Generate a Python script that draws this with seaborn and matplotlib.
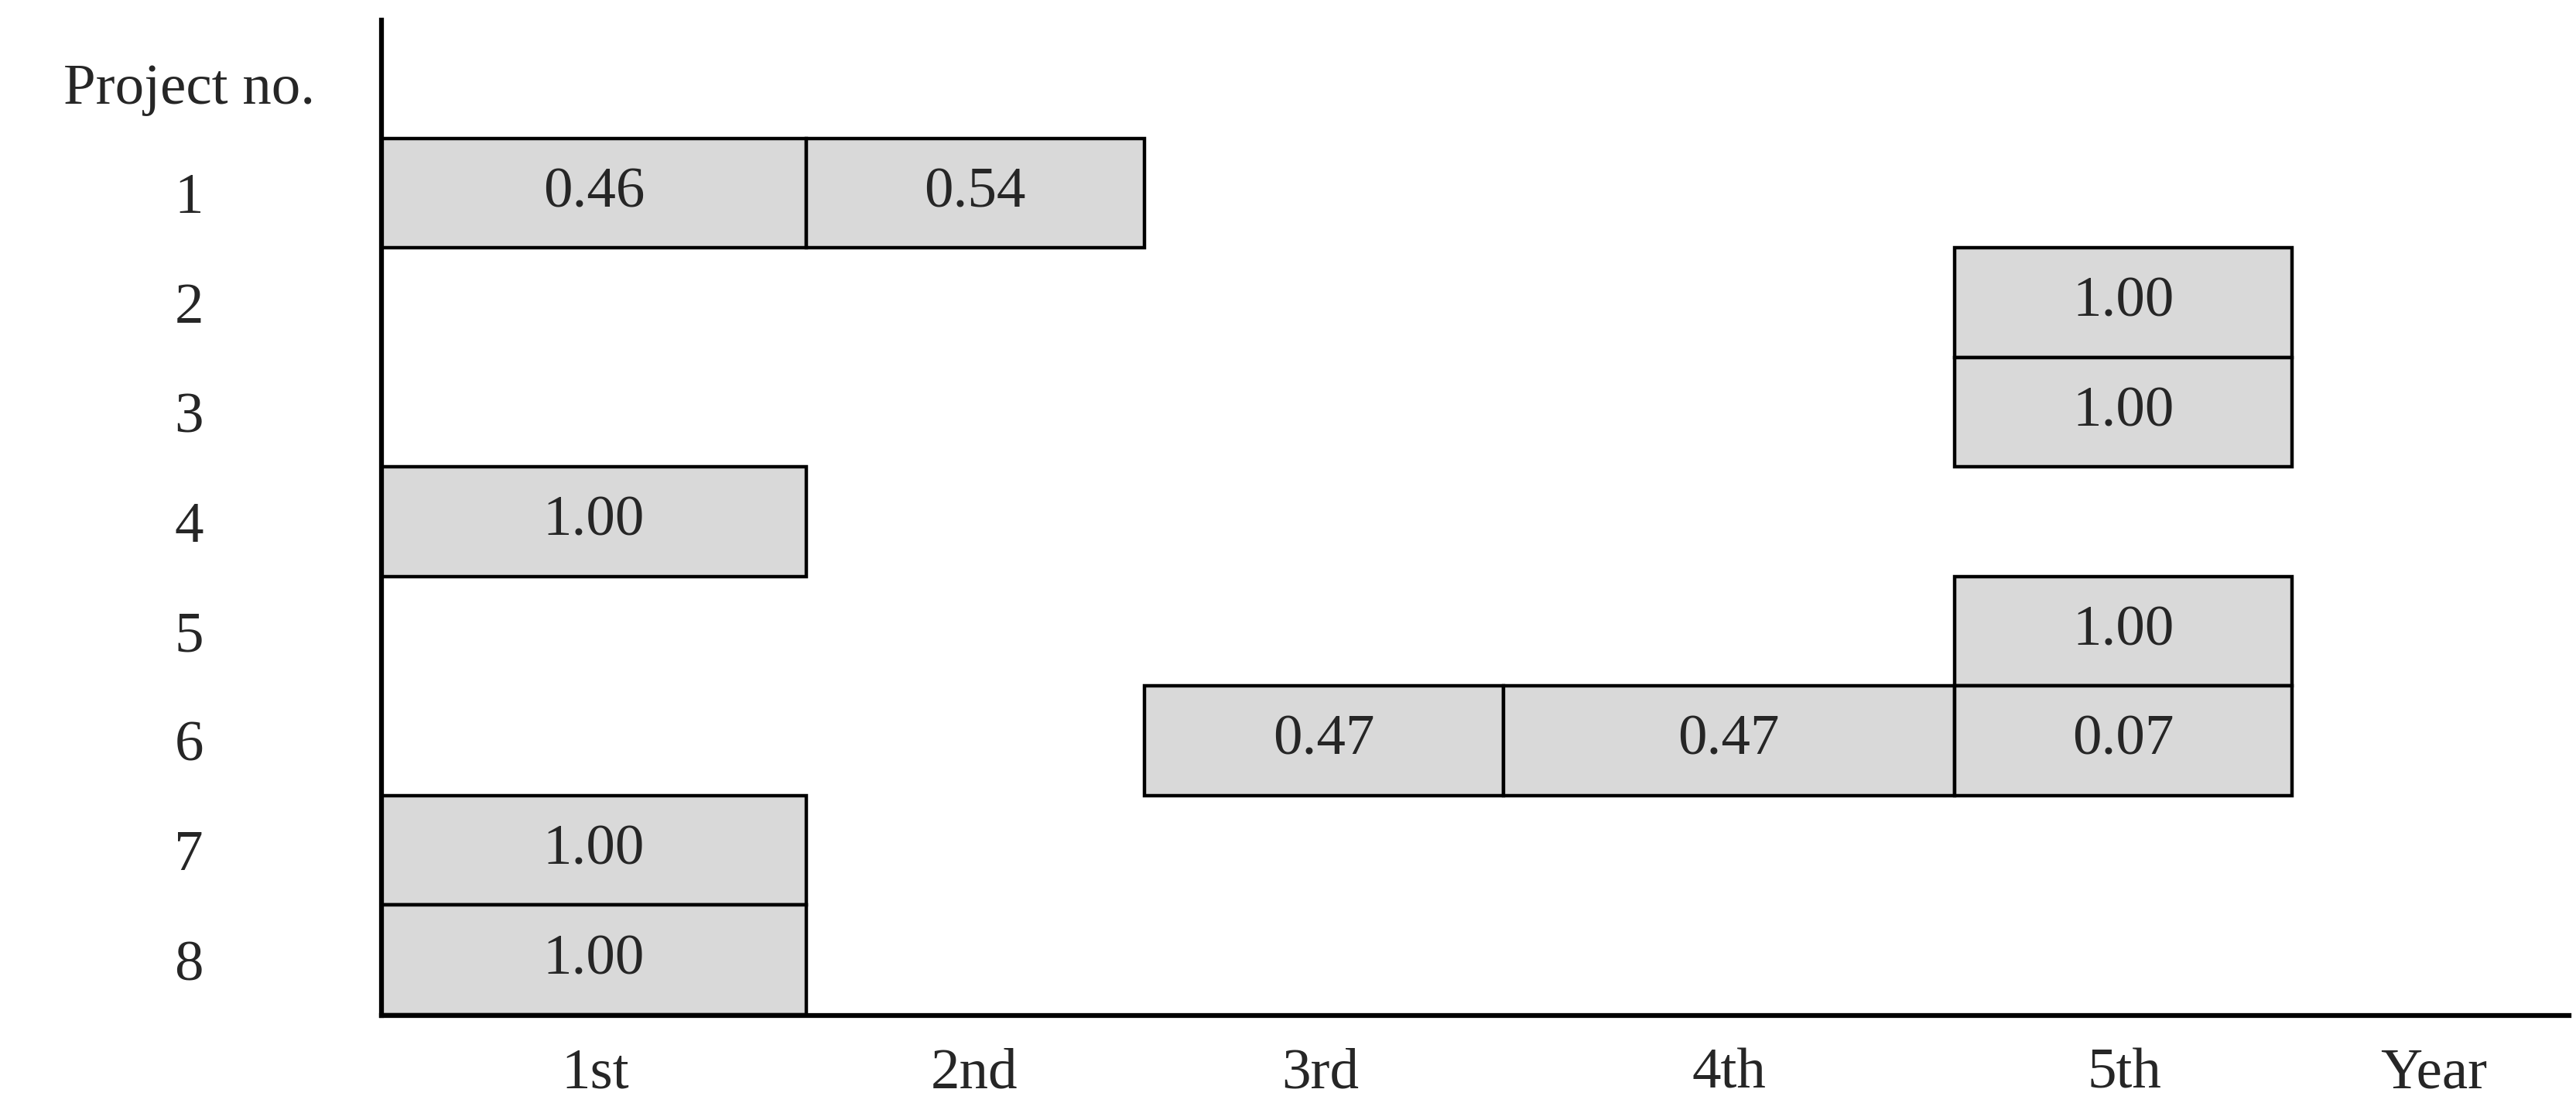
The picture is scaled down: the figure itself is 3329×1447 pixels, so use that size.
import matplotlib
matplotlib.use("Agg")
import matplotlib.pyplot as plt
import seaborn as sns

sns.set_theme(style="white")
plt.rcParams['font.family'] = ['Liberation Serif', 'DejaVu Serif']

# year boundaries (arbitrary units)
bounds = [0, 2.58, 4.63, 6.81, 9.55, 11.60]
projects = [1, 1, 2, 3, 4, 5, 6, 6, 6, 7, 8]
seg_start = [0, 1, 4, 4, 0, 4, 2, 3, 4, 0, 0]   # index into bounds
seg_end   = [1, 2, 5, 5, 1, 5, 3, 4, 5, 1, 1]
values = ["0.46", "0.54", "1.00", "1.00", "1.00", "1.00", "0.47", "0.47", "0.07", "1.00", "1.00"]
ytick_labels = ["Project no.", "1", "2", "3", "4", "5", "6", "7", "8"]
xtick_pos = [1.30, 3.60, 5.70, 8.18, 10.58, 12.46]
xtick_labels = ["1st", "2nd", "3rd", "4th", "5th", "Year"]

fig = plt.figure(figsize=(33.3, 14.47), dpi=100)
ax = fig.add_axes([0.148, 0.093, 0.849, 0.889])
for p, s, e, v in zip(projects, seg_start, seg_end, values):
    x0, x1 = bounds[s], bounds[e]
    ax.barh(p, x1 - x0, left=x0, height=1.0, color="#d9d9d9",
            edgecolor="black", linewidth=3.2)
    ax.text((x0 + x1) / 2, p, v, ha="center", va="center", fontsize=54)

ax.set_xlim(0, 13.28)
ax.set_ylim(8.51, -0.58)
ax.set_yticks(range(9))
ax.set_yticklabels(ytick_labels, fontsize=54)
for t in ax.get_yticklabels():
    t.set_horizontalalignment("center")
ax.tick_params(axis="y", length=0, pad=179)
ax.set_xticks(xtick_pos)
ax.set_xticklabels(xtick_labels, fontsize=54)
ax.tick_params(axis="x", length=0, pad=30)
for side in ["top", "right"]:
    ax.spines[side].set_visible(False)
for side in ["left", "bottom"]:
    ax.spines[side].set_linewidth(4.5)
    ax.spines[side].set_color("black")
fig.savefig("out.png", dpi=100)
